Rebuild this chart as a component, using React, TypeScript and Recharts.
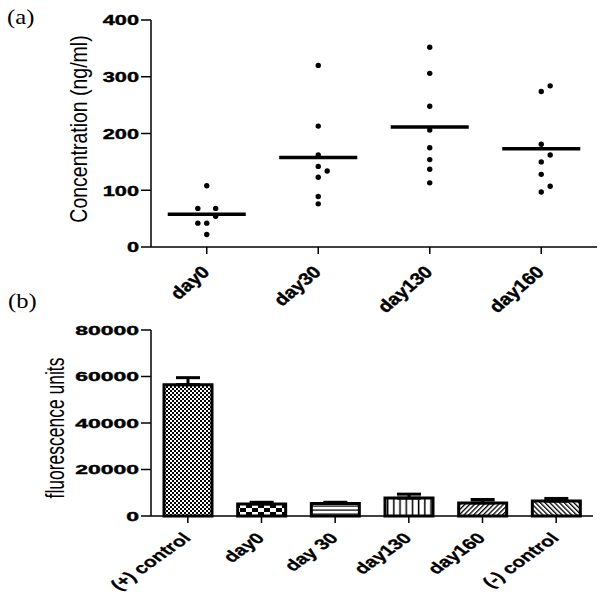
import React from 'react';
import { ScatterChart, Scatter, XAxis, YAxis, ReferenceLine, BarChart, Bar, Cell, ErrorBar } from 'recharts';

// ---- Panel (a) data ----
const dayLabels = ['day0', 'day30', 'day130', 'day160'];
const day0Values = [108, 68, 68, 54, 42, 42, 22];
const day0Jitter = [0, -0.08, 0.08, 0.08, -0.08, 0, 0];
const day30Values = [320, 213, 162, 142, 134, 123, 89, 76];
const day30Jitter = [0, 0, 0, 0, 0.08, 0, 0, 0];
const day130Values = [352, 306, 248, 206, 175, 154, 137, 113];
const day130Jitter = [0, 0, 0, 0, 0, 0, 0, 0];
const day160Values = [284, 274, 181, 162, 150, 128, 107, 97];
const day160Jitter = [0.08, 0, 0, 0.08, 0, 0, 0.08, 0];
const concMeans = [57.6, 157.5, 211.5, 173];
const concTicks = [0, 100, 200, 300, 400];

// ---- Panel (b) data ----
const groupLabels = ['(+) control', 'day0', 'day 30', 'day130', 'day160', '(-) control'];
const fluorValues = [56500, 5200, 5400, 7700, 5600, 6400];
const fluorErrors = [3000, 700, 500, 1700, 1500, 1150];
const fluorTicks = [0, 20000, 40000, 60000, 80000];

const patternIds = ['pPos', 'pDay0', 'pDay30', 'pDay130', 'pDay160', 'pNeg'];

const groupsA = [
  [day0Values, day0Jitter],
  [day30Values, day30Jitter],
  [day130Values, day130Jitter],
  [day160Values, day160Jitter],
];
const scatterData = groupsA.flatMap(([vals, jit], gi) =>
  (vals as number[]).map((v, k) => ({ x: gi + (jit as number[])[k], y: v }))
);
const barData = groupLabels.map((name, i) => ({
  name,
  value: fluorValues[i],
  err: [0, fluorErrors[i]],
}));

const SANS = '"Liberation Sans", Arial, sans-serif';
const SERIF = '"Liberation Serif", "Times New Roman", serif';

const YTick = ({ x, y, payload, fs, sx }: any) => (
  <g transform={`translate(${x},${y})`}>
    <text transform={`scale(${sx},1)`} textAnchor="end" dy="0.36em" fontSize={fs} fontWeight="bold" fontFamily={SANS} fill="#000" stroke="#000" strokeWidth={0.4}>
      {payload.value}
    </text>
  </g>
);

const XTickTop = ({ x, y, payload }: any) => (
  <g transform={`translate(${x + 4},${y + 19})`}>
    <text transform="scale(1.18,1) rotate(-45)" textAnchor="end" fontSize={17} fontWeight="bold" fontFamily={SANS} fill="#000" stroke="#000" strokeWidth={0.4}>
      {dayLabels[payload.value]}
    </text>
  </g>
);

const XTickBottom = ({ x, y, payload }: any) => (
  <g transform={`translate(${x + 4},${y + 16})`}>
    <text transform="scale(1.4,1) rotate(-45)" textAnchor="end" fontSize={15} fontWeight="bold" fontFamily={SANS} fill="#000" stroke="#000" strokeWidth={0.3}>
      {payload.value}
    </text>
  </g>
);

const Dot = (props: any) => <circle cx={props.cx} cy={props.cy} r={2.7} fill="#000" />;

const axisStyle = { stroke: '#000', strokeWidth: 1.5 };

export default function App() {
  return (
    <div style={{ position: 'absolute', left: 0, top: 0, width: 600, height: 600, background: '#fff' }}>
      <div style={{ position: 'absolute', left: 0, top: 0 }}>
        <ScatterChart width={600} height={315} margin={{ top: 20, right: 3, left: 0, bottom: 0 }}>
          <XAxis
            type="number"
            dataKey="x"
            domain={[-0.5, 3.5]}
            ticks={[0, 1, 2, 3]}
            height={68}
            axisLine={axisStyle}
            tickLine={axisStyle}
            tickSize={7}
            tickMargin={0}
            tick={<XTickTop />}
            interval={0}
          />
          <YAxis
            type="number"
            dataKey="y"
            domain={[0, 400]}
            ticks={concTicks}
            width={151}
            axisLine={axisStyle}
            tickLine={axisStyle}
            tickSize={10}
            tickMargin={2}
            tick={<YTick fs={15} sx={1.45} />}
            interval={0}
          />
          <Scatter data={scatterData} shape={<Dot />} isAnimationActive={false} />
          {concMeans.map((m, i) => (
            <ReferenceLine
              key={i}
              segment={[{ x: i - 0.35, y: m }, { x: i + 0.35, y: m }]}
              stroke="#000"
              strokeWidth={3.5}
            />
          ))}
        </ScatterChart>
      </div>
      <div style={{ position: 'absolute', left: 0, top: 300 }}>
        <BarChart width={600} height={300} data={barData} margin={{ top: 30, right: 7, left: 0, bottom: 0 }} barSize={48}>
          <defs>
            <pattern id="pPos" width="4" height="4" patternUnits="userSpaceOnUse">
              <rect width="4" height="4" fill="#fff" />
              <rect x="0" y="0" width="2" height="2" fill="#000" />
              <rect x="2" y="2" width="2" height="2" fill="#000" />
            </pattern>
            <pattern id="pDay0" width="12" height="8" patternUnits="userSpaceOnUse">
              <rect width="12" height="8" fill="#fff" />
              <rect x="0" y="0" width="6" height="4" fill="#000" />
              <rect x="6" y="4" width="6" height="4" fill="#000" />
            </pattern>
            <pattern id="pDay30" width="8" height="4" patternUnits="userSpaceOnUse">
              <rect width="8" height="4" fill="#fff" />
              <rect x="0" y="1.5" width="8" height="1.2" fill="#000" />
            </pattern>
            <pattern id="pDay130" width="6.2" height="8" patternUnits="userSpaceOnUse">
              <rect width="6.2" height="8" fill="#fff" />
              <rect x="2.5" y="0" width="1.5" height="8" fill="#000" />
            </pattern>
            <pattern id="pDay160" width="3.4" height="8" patternUnits="userSpaceOnUse" patternTransform="rotate(45)">
              <rect width="3.4" height="8" fill="#fff" />
              <rect x="0" y="0" width="1.3" height="8" fill="#000" />
            </pattern>
            <pattern id="pNeg" width="3.4" height="8" patternUnits="userSpaceOnUse" patternTransform="rotate(-45)">
              <rect width="3.4" height="8" fill="#fff" />
              <rect x="0" y="0" width="1.3" height="8" fill="#000" />
            </pattern>
          </defs>
          <XAxis
            dataKey="name"
            height={84}
            axisLine={axisStyle}
            tickLine={axisStyle}
            tickSize={7}
            tickMargin={0}
            tick={<XTickBottom />}
            interval={0}
          />
          <YAxis
            type="number"
            domain={[0, 80000]}
            ticks={fluorTicks}
            width={151}
            axisLine={axisStyle}
            tickLine={axisStyle}
            tickSize={10}
            tickMargin={2}
            tick={<YTick fs={13.5} sx={1.7} />}
            interval={0}
          />
          <Bar dataKey="value" stroke="#000" strokeWidth={3} isAnimationActive={false}>
            {barData.map((d, i) => (
              <Cell key={d.name} fill={`url(#${patternIds[i]})`} />
            ))}
            <ErrorBar dataKey="err" width={12} stroke="#000" strokeWidth={3} direction="y" isAnimationActive={false} />
          </Bar>
        </BarChart>
      </div>
      <svg width={600} height={600} style={{ position: 'absolute', left: 0, top: 0, pointerEvents: 'none' }}>
        <text transform="translate(7,24) scale(1.12,1)" fontSize={22} fontFamily={SERIF} fill="#000">(a)</text>
        <text transform="translate(8,308) scale(1.12,1)" fontSize={22} fontFamily={SERIF} fill="#000">(b)</text>
        <text
          transform="translate(79.5,129) scale(1.2,1) rotate(-90)"
          textAnchor="middle"
          dominantBaseline="central"
          fontSize={19.5}
          fontFamily={SANS}
          fill="#000"
        >
          Concentration (ng/ml)
        </text>
        <text
          transform="translate(55,428) scale(1.45,1) rotate(-90)"
          textAnchor="middle"
          dominantBaseline="central"
          fontSize={17.5}
          fontFamily={SANS}
          fill="#000"
        >
          fluorescence units
        </text>
      </svg>
    </div>
  );
}
